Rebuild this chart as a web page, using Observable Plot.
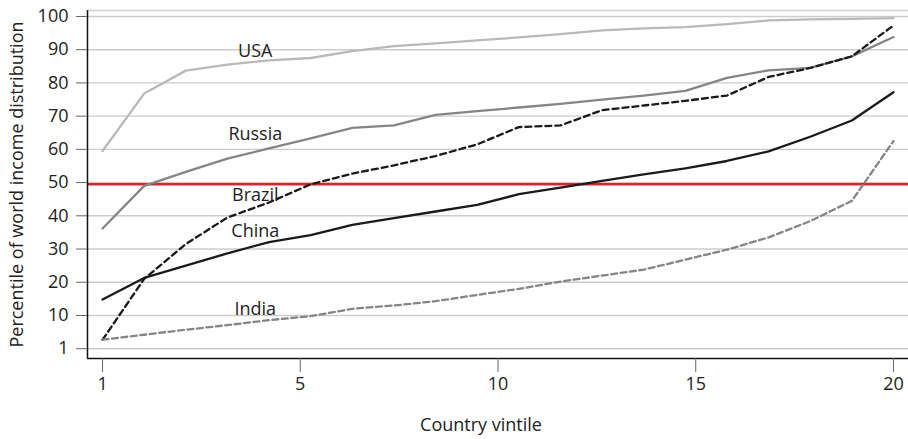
<!DOCTYPE html>
<html><head><meta charset="utf-8">
<script src="https://cdn.jsdelivr.net/npm/d3@7"></script>
<script src="https://cdn.jsdelivr.net/npm/@observablehq/plot@0.6"></script>
<style>body{margin:0;background:#fff} svg{display:block}</style>
</head><body><div id="chart"></div>
<script>
const vintiles = [1,2,3,4,5,6,7,8,9,10,11,12,13,14,15,16,17,18,19,20];
const countries = ["USA","Russia","Brazil","China","India"];
const usa    = [59.5,76.8,83.7,85.5,86.8,87.5,89.6,91.1,91.9,92.8,93.7,94.7,95.8,96.4,96.8,97.7,98.8,99.1,99.3,99.5];
const russia = [36.2,49.0,53.2,57.2,60.3,63.3,66.5,67.2,70.4,71.5,72.6,73.7,75.0,76.2,77.6,81.5,83.8,84.5,88.0,93.8];
const brazil = [2.7,21.0,31.5,39.5,44.0,49.5,52.7,55.2,58.0,61.5,66.7,67.2,71.8,73.2,74.6,76.2,81.8,84.5,88.0,97.3];
const china  = [14.8,21.3,25.0,28.7,32.1,34.2,37.3,39.3,41.3,43.3,46.5,48.5,50.5,52.5,54.3,56.5,59.4,63.8,68.7,77.2];
const india  = [2.7,4.2,5.7,7.1,8.6,9.8,12.0,13.0,14.3,16.2,18.0,20.2,22.0,23.8,26.8,29.8,33.5,38.4,44.5,62.5];
const seriesValues = [usa, russia, brazil, china, india];
const xTicks = [0,5,10,15,20];
const xTickLabels = ["1","5","10","15","20"];
const yTicks = [0,10,20,30,40,50,60,70,80,90,100];
const yTickLabels = ["1","10","20","30","40","50","60","70","80","90","100"];
const threshold = 49.5;
const labelVintile = [4.67,4.67,4.67,4.67,4.67];
const labelValue = [89.5,64.5,46.2,35.5,11.8];

// styles
const styles = {
  USA:    {stroke:"#b9b9b9", dash:null},
  Russia: {stroke:"#858585", dash:null},
  Brazil: {stroke:"#1a1a1a", dash:"6,4"},
  China:  {stroke:"#1a1a1a", dash:null},
  India:  {stroke:"#858585", dash:"6,3.5"}
};
const xDomain = [-0.38, 20.38];
const yDomain = [-2.95, 101.8];
const pos = v => (v - 1) * 20 / 19; // vintile -> evenly spread axis position

const rows = countries.flatMap((c, k) => vintiles.map((v, i) => ({country: c, vintile: v, value: seriesValues[k][i]})));
const labelRows = countries.map((c, k) => ({country: c, vintile: labelVintile[k], value: labelValue[k]}));

const font = "'Open Sans', 'Noto Sans', sans-serif";
const fs = 18;
const marks = [
  Plot.ruleY(yTicks, {stroke:"#cccccc", strokeWidth:1.4}),
  Plot.ruleY([yDomain[1]], {stroke:"#d0d0d0", strokeWidth:1.4}),
  Plot.ruleY([threshold], {stroke:"#e4202a", strokeWidth:2.6}),
  ...countries.map(c => Plot.line(rows.filter(r => r.country === c), {
    x: d => pos(d.vintile), y: "value",
    stroke: styles[c].stroke, strokeWidth: 2.3,
    strokeDasharray: styles[c].dash || undefined
  })),
  Plot.text(labelRows, {x: d => pos(d.vintile), y: "value", text: "country", fill:"#222", fontSize:fs, textAnchor:"middle", lineAnchor:"middle"}),
  Plot.ruleX([xDomain[0]], {stroke:"#111", strokeWidth:1.5}),
  Plot.ruleY([yDomain[0]], {stroke:"#111", strokeWidth:1.5}),
  Plot.axisY({ticks: yTicks, tickFormat: d => yTickLabels[yTicks.indexOf(d)], tickSize: 11, tickPadding: 8, fontSize: fs, stroke:"#666", fill:"#222", label: null}),
  Plot.axisX({ticks: xTicks, tickFormat: d => xTickLabels[xTicks.indexOf(d)], tickSize: 14, tickPadding: 5, fontSize: fs, stroke:"#666", fill:"#222", label: null}),
  Plot.text(["Percentile of world income distribution"], {frameAnchor:"left", rotate:-90, dx:-70, fontSize:fs, fill:"#222", textAnchor:"middle", lineAnchor:"middle"}),
  Plot.text(["Country vintile"], {frameAnchor:"bottom", dy:67, dx:-17, fontSize:fs, fill:"#222", textAnchor:"middle", lineAnchor:"middle"})
];

const chart = Plot.plot({
  width: 908, height: 439,
  marginTop: 10, marginRight: 0, marginBottom: 81, marginLeft: 87,
  style: {fontFamily: font, fontSize: "18px", background: "#fff", color: "#222"},
  x: {domain: xDomain},
  y: {domain: yDomain},
  marks
});
document.getElementById("chart").appendChild(chart);
</script>
</body></html>
